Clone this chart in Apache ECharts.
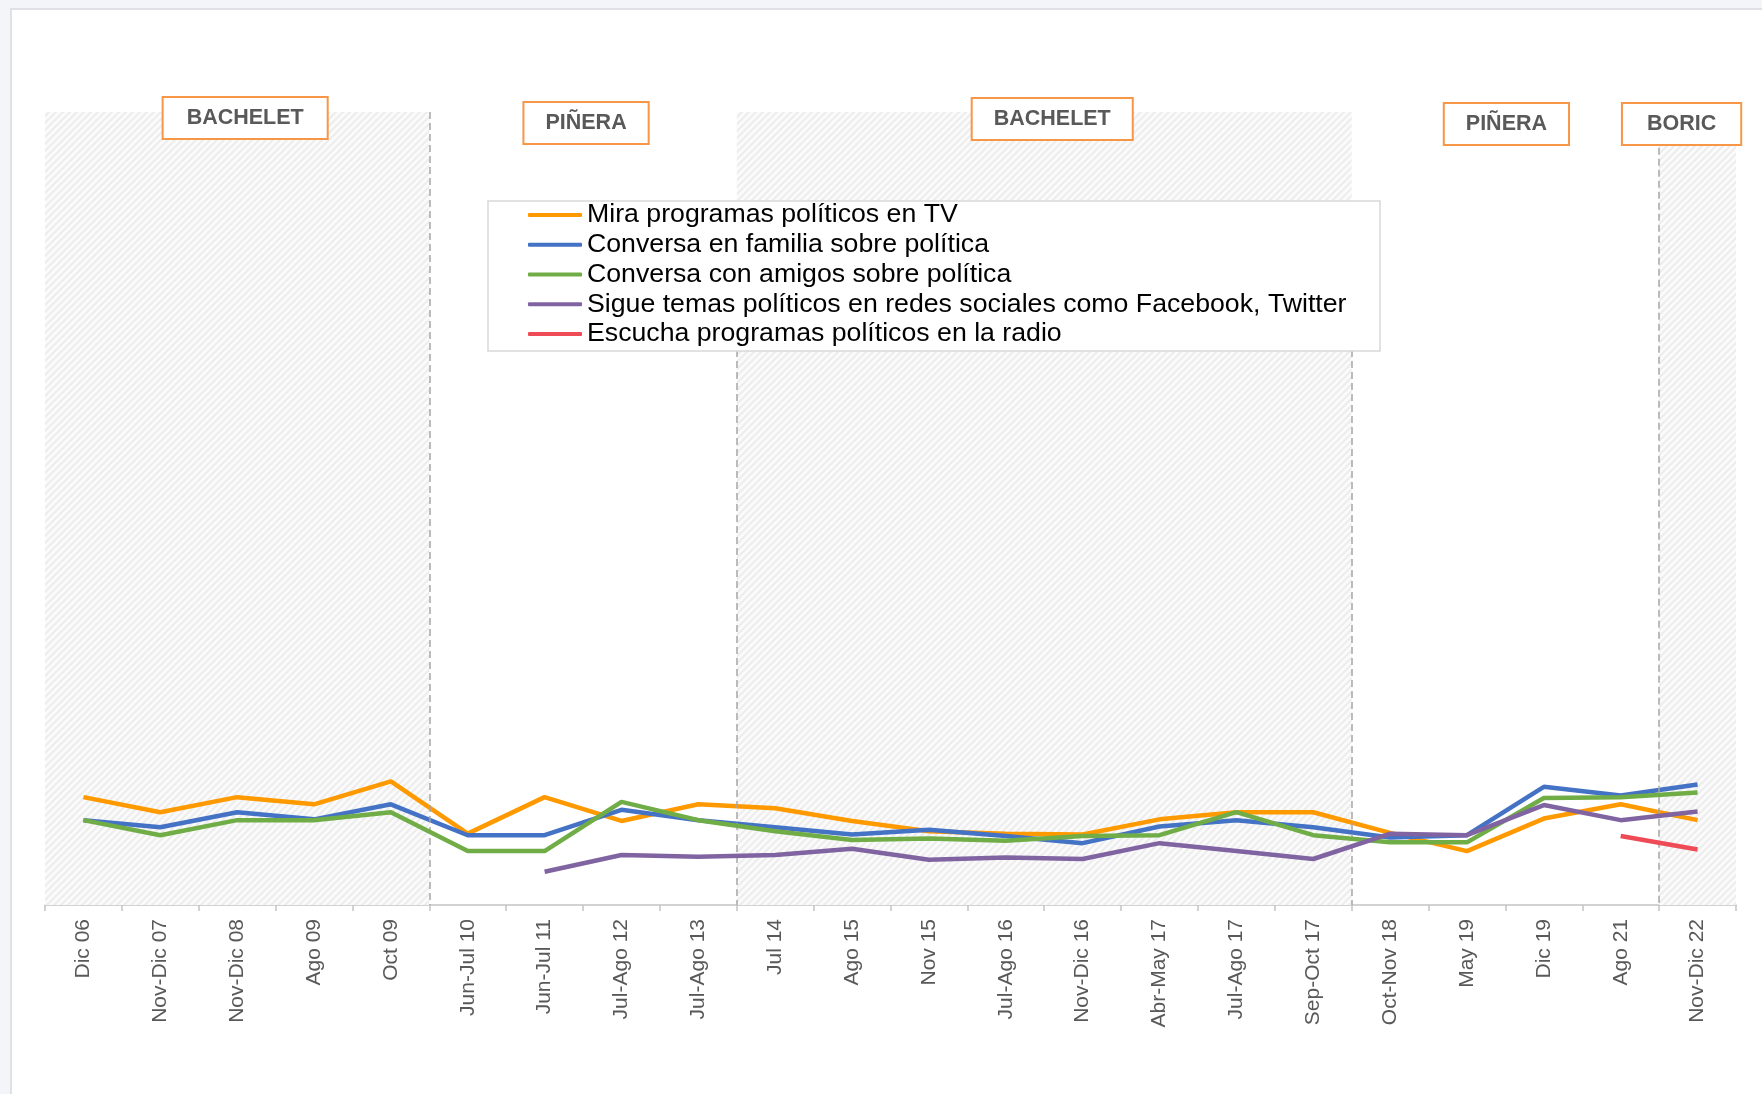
<!DOCTYPE html>
<html>
<head>
<meta charset="utf-8">
<script src="https://cdn.jsdelivr.net/npm/echarts@6/dist/echarts.min.js"></script>
<style>
  html, body { margin:0; padding:0; width:1762px; height:1094px; background:#f4f5f9; overflow:hidden; }
  #panel { position:absolute; left:10px; top:8px; right:0; bottom:0; background:#fff; border-left:2px solid #dfe1e7; border-top:2px solid #dfe1e7; }
  #chart { position:absolute; left:0; top:0; width:1762px; height:1094px; }
</style>
</head>
<body>
<div id="panel"></div>
<div id="chart"></div>
<script>
// ---- data ----
const categories = ['Dic 06','Nov-Dic 07','Nov-Dic 08','Ago 09','Oct 09','Jun-Jul 10','Jun-Jul 11','Jul-Ago 12','Jul-Ago 13','Jul 14','Ago 15','Nov 15','Jul-Ago 16','Nov-Dic 16','Abr-May 17','Jul-Ago 17','Sep-Oct 17','Oct-Nov 18','May 19','Dic 19','Ago 21','Nov-Dic 22'];
const seriesNames = ['Mira programas políticos en TV','Conversa en familia sobre política','Conversa con amigos sobre política','Sigue temas políticos en redes sociales como Facebook, Twitter','Escucha programas políticos en la radio'];
const tvValues      = [13.6, 11.7, 13.6, 12.7, 15.6, 9.0, 13.6, 10.6, 12.7, 12.2, 10.6, 9.3, 9.0, 8.9, 10.8, 11.7, 11.7, 9.1, 6.8, 10.9, 12.7, 10.7];
const familiaValues = [10.7, 9.8, 11.7, 10.8, 12.7, 8.8, 8.8, 12.0, 10.7, 9.8, 8.9, 9.5, 8.7, 7.8, 9.9, 10.7, 9.8, 8.5, 8.8, 14.9, 13.8, 15.2];
const amigosValues  = [10.7, 8.8, 10.7, 10.7, 11.7, 6.8, 6.8, 13.0, 10.7, 9.3, 8.2, 8.4, 8.1, 8.7, 8.8, 11.7, 8.8, 7.9, 7.9, 13.5, 13.6, 14.2];
const redesValues   = [null, null, null, null, null, null, 4.2, 6.3, 6.1, 6.3, 7.1, 5.7, 6.0, 5.8, 7.8, 6.8, 5.8, 9.0, 8.8, 12.6, 10.7, 11.8];
const radioValues   = [null, null, null, null, null, null, null, null, null, null, null, null, null, null, null, null, null, null, null, null, 8.7, 7.0];
// government periods (category boundaries)
const periodNames  = ['BACHELET','PIÑERA','BACHELET','PIÑERA','BORIC'];
const periodStart  = [0, 5, 9, 17, 21];
const periodEnd    = [5, 9, 17, 21, 22];
const periodShaded = [true, false, true, false, true];
const dividerAt    = [5, 9, 17, 21];
const dividerTop   = [100, 70, 70, 95.5];

// ---- styles ----
const colors = ['#ff9900','#4472c4','#70ad47','#8064a2','#ee4b57'];
const labelStyle = [
  {offset:[8,-19], padding:[9,23,9,23]},
  {offset:[3,-14], padding:[9,21,9,21]},
  {offset:[8,-18], padding:[9,21,9,21]},
  {offset:[1,-13], padding:[9,21,9,21]},
  {offset:[-16,-13], padding:[9,24,9,24]}
];

const cv = document.createElement('canvas');
cv.width = 7; cv.height = 7;
const cx = cv.getContext('2d');
cx.fillStyle = '#fbfbfb'; cx.fillRect(0,0,7,7);
cx.strokeStyle = '#ededed'; cx.lineWidth = 2.2;
cx.beginPath();
cx.moveTo(0,7); cx.lineTo(7,0);
cx.moveTo(-1,1); cx.lineTo(1,-1);
cx.moveTo(6,8); cx.lineTo(8,6);
cx.stroke();
const hatch = {image: cv, repeat: 'repeat'};

const FONT = '"Liberation Sans", Arial, sans-serif';
const chart = echarts.init(document.getElementById('chart'), null, {renderer:'canvas'});

const areaData = periodNames.map((n, i) => [
  {
    name: n, xAxis: periodStart[i],
    itemStyle: {color: periodShaded[i] ? hatch : 'rgba(0,0,0,0)'},
    label: {
      show: true, position: 'insideTop', offset: labelStyle[i].offset,
      color: '#595959', fontWeight: 'bold', fontSize: 21.5, fontFamily: FONT, lineHeight: 22,
      backgroundColor: '#fff', borderColor: '#f79646', borderWidth: 2, padding: labelStyle[i].padding
    }
  },
  {xAxis: periodEnd[i]}
]);
const lineData = dividerAt.map((x, i) => [{coord: [x, dividerTop[i]]}, {coord: [x, 0]}]);

const valueSets = [tvValues, familiaValues, amigosValues, redesValues, radioValues];
const lineSeries = seriesNames.map((n, i) => ({
  name: n, type: 'line', data: valueSets[i], xAxisIndex: 0, yAxisIndex: 0,
  showSymbol: false, symbol: 'none', connectNulls: false,
  lineStyle: {color: colors[i], width: 4.5}, itemStyle: {color: colors[i]},
  z: 3 + i, animation: false
}));

chart.setOption({
  animation: false,
  grid: {left: 45, right: 26, top: 112, bottom: 189},
  xAxis: [
    {
      type: 'category', data: categories, boundaryGap: true,
      axisLine: {lineStyle: {color: '#c4c4c4', width: 1.5}},
      axisTick: {show: true, length: 6, lineStyle: {color: '#c4c4c4', width: 1.5}},
      axisLabel: {rotate: 90, margin: 14, color: '#595959', fontSize: 21, fontFamily: FONT, interval: 0},
      splitLine: {show: false}
    },
    {type: 'value', min: 0, max: 22, show: false, splitLine: {show: false}}
  ],
  yAxis: {type: 'value', min: 0, max: 100, show: false, splitLine: {show: false}},
  legend: {
    data: seriesNames, orient: 'vertical', left: 528, top: 200, padding: 0,
    itemGap: 0, itemWidth: 54, itemHeight: 4, icon: 'roundRect', align: 'left',
    selectedMode: false, z: 20,
    textStyle: {color: '#000', fontSize: 26.7, fontFamily: FONT, lineHeight: 29.8}
  },
  graphic: [{
    type: 'rect', z: 10, silent: true,
    shape: {x: 488, y: 201, width: 892, height: 150},
    style: {fill: '#fff', stroke: '#d9d9d9', lineWidth: 1.5}
  }],
  series: [
    {
      name: 'periods', type: 'line', data: [], xAxisIndex: 1, yAxisIndex: 0, clip: false, z: 1,
      markArea: {silent: true, data: areaData},
      markLine: {
        silent: true, symbol: ['none','none'], label: {show: false},
        lineStyle: {color: '#a6a6a6', width: 1.5, type: [7,4]},
        data: lineData
      }
    }
  ].concat(lineSeries)
});
</script>
</body>
</html>
